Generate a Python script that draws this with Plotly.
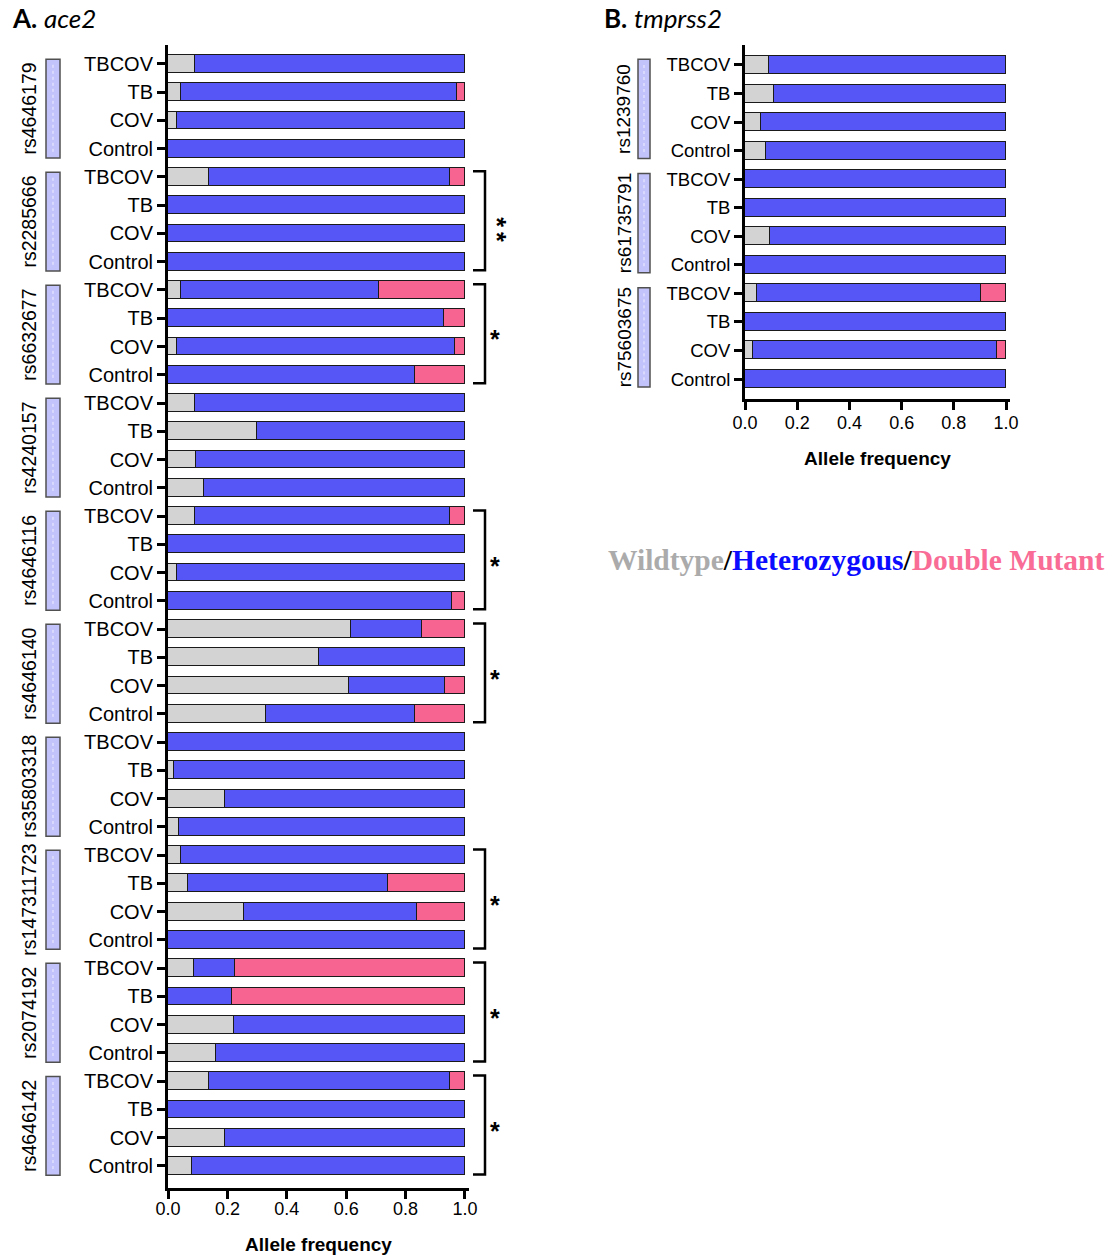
import plotly.graph_objects as go

# ---------------- data ----------------
groups = ["TBCOV", "TB", "COV", "Control"]

ace2_snps = ["rs4646179", "rs2285666", "rs6632677", "rs4240157", "rs4646116",
             "rs4646140", "rs35803318", "rs147311723", "rs2074192", "rs4646142"]
ace2_sig = ["", "**", "*", "", "*", "*", "", "*", "*", "*"]

# per SNP: TBCOV, TB, COV, Control
ace2_wild = [0.092, 0.043, 0.029, 0.000,
             0.139, 0.000, 0.000, 0.000,
             0.043, 0.000, 0.029, 0.000,
             0.092, 0.299, 0.094, 0.121,
             0.092, 0.000, 0.029, 0.000,
             0.617, 0.508, 0.610, 0.330,
             0.000, 0.019, 0.192, 0.038,
             0.043, 0.067, 0.255, 0.000,
             0.088, 0.000, 0.222, 0.163,
             0.139, 0.000, 0.192, 0.081]
ace2_het = [0.908, 0.931, 0.971, 1.000,
            0.810, 1.000, 1.000, 1.000,
            0.669, 0.928, 0.937, 0.831,
            0.908, 0.701, 0.906, 0.879,
            0.857, 1.000, 0.971, 0.956,
            0.238, 0.492, 0.324, 0.501,
            1.000, 0.981, 0.808, 0.962,
            0.957, 0.675, 0.582, 1.000,
            0.136, 0.217, 0.778, 0.837,
            0.812, 1.000, 0.808, 0.919]
ace2_dm = [0.000, 0.026, 0.000, 0.000,
           0.051, 0.000, 0.000, 0.000,
           0.288, 0.072, 0.034, 0.169,
           0.000, 0.000, 0.000, 0.000,
           0.051, 0.000, 0.000, 0.044,
           0.145, 0.000, 0.066, 0.169,
           0.000, 0.000, 0.000, 0.000,
           0.000, 0.258, 0.163, 0.000,
           0.776, 0.783, 0.000, 0.000,
           0.049, 0.000, 0.000, 0.000]

tmp_snps = ["rs1239760", "rs61735791", "rs75603675"]
tmp_wild = [0.093, 0.112, 0.061, 0.079,
            0.000, 0.000, 0.095, 0.000,
            0.045, 0.000, 0.029, 0.000]
tmp_het = [0.907, 0.888, 0.939, 0.921,
           1.000, 1.000, 0.905, 1.000,
           0.858, 1.000, 0.938, 1.000]
tmp_dm = [0.000, 0.000, 0.000, 0.000,
          0.000, 0.000, 0.000, 0.000,
          0.097, 0.000, 0.033, 0.000]

x_ticks = [0.0, 0.2, 0.4, 0.6, 0.8, 1.0]

# ---------------- style ----------------
W, H = 1105, 1255
C_WILD = "#d3d3d3"
C_HET = "#5656f7"
C_DM = "#f76491"
LINE = "#1a1a1a"
FONT = "Liberation Sans"

def px_x(p):
    return p / W

def px_y(p):
    return 1 - p / H

fig = go.Figure()

def add_panel(wild, het, dm, xa, ya):
    n = len(wild)
    pos = list(range(n))
    labels = [groups[i % 4] for i in range(n)]
    for vals, col, name in [(wild, C_WILD, "Wildtype"),
                            (het, C_HET, "Heterozygous"),
                            (dm, C_DM, "Double Mutant")]:
        fig.add_trace(go.Bar(
            x=vals, y=pos, orientation="h", name=name,
            marker=dict(color=col, line=dict(color=LINE, width=1)),
            width=0.63, xaxis=xa, yaxis=ya, showlegend=False,
            hovertext=labels))
    return pos, labels

posA, labA = add_panel(ace2_wild, ace2_het, ace2_dm, "x", "y")
posB, labB = add_panel(tmp_wild, tmp_het, tmp_dm, "x2", "y2")

axis_common = dict(showline=True, linecolor="black", linewidth=3,
                   ticks="outside", ticklen=8, tickwidth=3, tickcolor="black",
                   showgrid=False, zeroline=False, mirror=False, automargin=False)

fig.update_layout(
    width=W, height=H, margin=dict(l=0, r=0, t=0, b=0, autoexpand=False),
    paper_bgcolor="white", plot_bgcolor="white",
    barmode="stack", bargap=0,
    font=dict(family=FONT, color="black"),
    xaxis=dict(domain=[px_x(168), px_x(469)], range=[0, 1.0135],
               tickvals=x_ticks, ticktext=[f"{v:.1f}" for v in x_ticks],
               tickfont=dict(size=18), anchor="y", ticklabelstandoff=-6,
               title=dict(text="<b>Allele frequency</b>", font=dict(size=19), standoff=24),
               **axis_common),
    yaxis=dict(domain=[px_y(1188), px_y(45)], range=[39.78, -0.67],
               tickvals=posA, ticktext=labA, tickfont=dict(size=20), anchor="x",
               **axis_common),
    xaxis2=dict(domain=[px_x(745), px_x(1010)], range=[0, 1.015],
                tickvals=x_ticks, ticktext=[f"{v:.1f}" for v in x_ticks],
                tickfont=dict(size=18), anchor="y2", ticklabelstandoff=-3,
                title=dict(text="<b>Allele frequency</b>", font=dict(size=19), standoff=21),
                **axis_common),
    yaxis2=dict(domain=[px_y(399), px_y(45)], range=[11.7, -0.7],
                tickvals=posB, ticktext=labB, tickfont=dict(size=18.5), anchor="x2",
                **axis_common),
)

shapes = []
annotations = []

def snp_groups(snps, yref, rect_x0, rect_x1, text_x, top_off, bot_off, fsize):
    for i, s in enumerate(snps):
        y0 = i * 4 - top_off
        y1 = i * 4 + 3 + bot_off
        shapes.append(dict(type="rect", xref="paper", yref=yref,
                           x0=px_x(rect_x0), x1=px_x(rect_x1), y0=y0, y1=y1,
                           fillcolor="#c3c3fb", line=dict(color="#505050", width=1.5)))
        shapes.append(dict(type="line", xref="paper", yref=yref,
                           x0=px_x((rect_x0 + rect_x1) / 2), x1=px_x((rect_x0 + rect_x1) / 2),
                           y0=y0 + 0.2, y1=y1 - 0.2,
                           line=dict(color="#eeeeff", width=1, dash="dot")))
        annotations.append(dict(text=s, xref="paper", yref=yref,
                                x=px_x(text_x), y=(y0 + y1) / 2, textangle=-90,
                                showarrow=False, font=dict(size=fsize, family=FONT),
                                xanchor="center", yanchor="middle"))

snp_groups(ace2_snps, "y", 46, 60, 29, 0.17, 0.33, 19.5)
snp_groups(tmp_snps, "y2", 638, 650, 624, 0.2, 0.28, 19)

# significance brackets for ace2
for i, sig in enumerate(ace2_sig):
    if not sig:
        continue
    y0 = i * 4 - 0.2
    y1 = i * 4 + 3 + 0.3
    xa, xb = px_x(473), px_x(485)
    shapes.append(dict(type="path", xref="paper", yref="y",
                       path=f"M {xa},{y0} L {xb},{y0} L {xb},{y1} L {xa},{y1}",
                       line=dict(color="black", width=2.5)))
    ym = (y0 + y1) / 2
    if sig == "**":
        annotations.append(dict(text="<b>*\u2009*</b>", xref="paper", yref="y", x=px_x(497), y=ym + 0.3,
                                textangle=90, showarrow=False, font=dict(size=25, family=FONT),
                                xanchor="center", yanchor="middle"))
    else:
        annotations.append(dict(text="<b>*</b>", xref="paper", yref="y", x=px_x(495), y=ym + 0.2,
                                showarrow=False, font=dict(size=25, family=FONT),
                                xanchor="center", yanchor="middle"))

# panel titles
annotations.append(dict(text="<b>A.</b> <i>ace2</i>", xref="paper", yref="paper",
                        x=px_x(10), y=px_y(18), xanchor="left", yanchor="middle",
                        showarrow=False, font=dict(size=26, family="Lato")))
annotations.append(dict(text="<b>B.</b> <i>tmprss2</i>", xref="paper", yref="paper",
                        x=px_x(602), y=px_y(18), xanchor="left", yanchor="middle",
                        showarrow=False, font=dict(size=26, family="Lato")))

# colour key
annotations.append(dict(
    text="<b><span style='color:#ababab'>Wildtype</span>/"
         "<span style='color:#0b0bff'>Heterozygous</span>/"
         "<span style='color:#f86c96'>Double Mutant</span></b>",
    xref="paper", yref="paper", x=px_x(856), y=px_y(560),
    xanchor="center", yanchor="middle", showarrow=False,
    font=dict(size=29.5, family="Liberation Serif", color="black")))

fig.update_layout(shapes=shapes, annotations=annotations)

fig.write_html("out.html", post_script="document.body.style.margin='0';",
               config={"displayModeBar": False})
